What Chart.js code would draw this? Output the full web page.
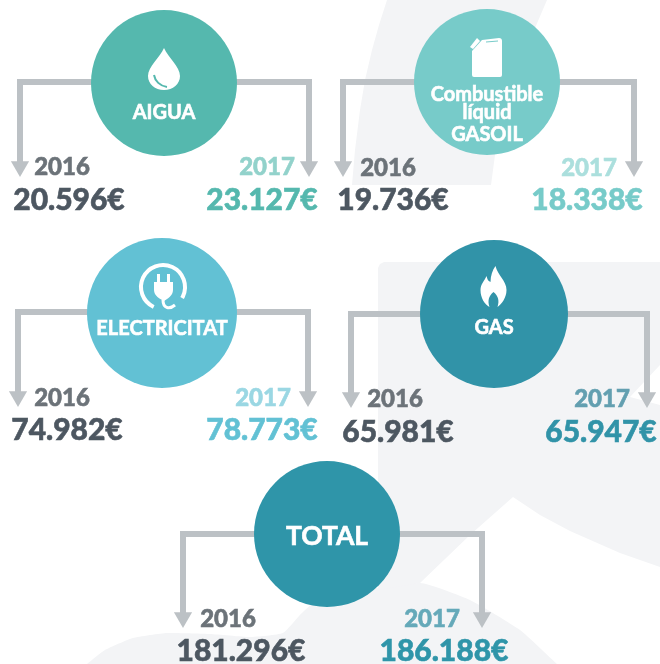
<!DOCTYPE html>
<html>
<head>
<meta charset="utf-8">
<title>Despesa energia i aigua</title>
<script src="https://cdn.jsdelivr.net/npm/chart.js@4"></script>
<style>
  html, body { margin: 0; padding: 0; background: #fff; }
  canvas { display: block; filter: blur(0.5px); }
</style>
</head>
<body>
<canvas id="chart" width="660" height="664"></canvas>
<script>
// dades
const categories = ['AIGUA', 'Combustible líquid GASOIL', 'ELECTRICITAT', 'GAS', 'TOTAL'];
const years = ['2016', '2017'];
const values2016 = [20596, 19736, 74982, 65981, 181296];
const values2017 = [23127, 18338, 78773, 65947, 186188];

// colors de cada cercle
const circleColors = ['#55b8ae', '#77cbc9', '#62c1d4', '#3193a8', '#2f95a9'];
const yearColors = ['#92d2cb', '#abdfdd', '#9ad7e3', '#639fb0', '#65a9b9'];
const GREY_LINE = '#bcc1c5';
const GREY_BACK = '#f3f4f6';
const DARK_VALUE = '#4d5761';
const DARK_YEAR = '#6c7379';

// posicions (en píxels de la imatge)
const circles = [[164, 83, 73], [487, 82, 73], [162, 313, 75], [494, 314, 74], [327, 534, 73]];
const arrows = [[20, 309, 82, 177], [343, 634, 82, 177], [18, 308, 312, 407], [351, 647, 314, 408], [183, 482, 534, 628]];
const yearPos = [[62, 267, 167], [388, 589, 168], [62, 263, 398], [395, 602, 399], [228, 432, 619]];
const valuePos = [[69, 262, 200.5], [393, 587, 200.5], [67, 262, 430.5], [398, 601, 432.5], [241, 444, 651]];
const ARROW_R = 10.5;

// fons gris
const backSwoosh = [[387, 0], [379, 25], [372, 50], [365, 80], [360, 110], [355, 150], [352, 185], [491, 185], [495, 155], [500, 130], [507, 105], [515, 80], [532, 35], [547, 0]];
const backPanel = [[378, 268], [380, 264], [384, 262], [660, 262], [660, 365], [630, 397], [660, 405], [660, 567], [620, 553], [570, 531], [540, 515], [513, 497], [470, 535], [420, 583], [378, 590]];
const backBottom = [[87, 664], [105, 650], [133, 638], [167, 633], [210, 634], [250, 637], [283, 633], [300, 615], [320, 598], [420, 583], [470, 600], [520, 630], [557, 664]];

// rètol blanc de cada cercle: text, y, mida
const circleLabels = [
  [['AIGUA', 113, 20]],
  [['Combustible', 95, 20], ['líquid', 113, 20], ['GASOIL', 135, 20]],
  [['ELECTRICITAT', 329, 20]],
  [['GAS', 328, 20]],
  [['TOTAL', 536, 26.5]]
];

const toXY = p => ({ x: p[0], y: p[1] });
const formatEuro = v => String(v).replace(/\B(?=(\d{3})+$)/g, '.') + '€';

function backDataset(points, tension) {
  return { type: 'scatter', data: points.map(toXY), showLine: true, fill: 'shape', backgroundColor: GREY_BACK, borderWidth: 0, pointRadius: 0, tension, order: 5 };
}

const datasets = [backDataset(backSwoosh, 0), backDataset(backPanel, 0), backDataset(backBottom, 0.15)];

arrows.forEach(a => {
  const [left, right, lineY, tip] = a;
  const end = tip - ARROW_R;
  datasets.push({
    type: 'scatter',
    data: [{ x: left, y: end }, { x: left, y: lineY }, { x: right, y: lineY }, { x: right, y: end }],
    showLine: true, borderColor: GREY_LINE, borderWidth: 6, borderJoinStyle: 'miter', pointRadius: 0, order: 4
  });
  datasets.push({
    type: 'scatter',
    data: [{ x: left, y: end }, { x: right, y: end }],
    pointStyle: 'triangle', pointRotation: 180, pointRadius: ARROW_R, pointBackgroundColor: GREY_LINE, pointBorderWidth: 0, order: 3
  });
});

datasets.push({
  type: 'bubble',
  data: circles.map(c => ({ x: c[0], y: c[1], r: c[2] })),
  backgroundColor: circleColors, borderWidth: 0, order: 2
});

// icones blanques, relatives al centre donat
function drawIcons(ctx, sx, sy) {
  const put = (x, y, fn) => {
    ctx.save();
    ctx.translate(sx.getPixelForValue(x), sy.getPixelForValue(y));
    ctx.fillStyle = '#fff';
    ctx.strokeStyle = '#fff';
    fn();
    ctx.restore();
  };

  // gota
  put(164, 70, () => {
    ctx.fill(new Path2D('M0,-22 C4,-13 16,-3 16,6 C16,14 9,20 0,20 C-9,20 -16,14 -16,6 C-16,-3 -4,-13 0,-22Z'));
    ctx.strokeStyle = circleColors[0];
    ctx.lineWidth = 2;
    ctx.stroke(new Path2D('M-10,5 C-9,11 -4,16 3,17'));
  });

  // garrafa
  put(487, 57, () => {
    ctx.fill(new Path2D('M-15,-6 L-5,-17 L12,-19 Q15,-19 15,-16 L15,18 Q15,20 13,20 L-13,20 Q-15,20 -15,18Z'));
    ctx.fill(new Path2D('M-17,-10 L-10,-19 L-7,-16 L-14,-8Z'));
    ctx.strokeStyle = circleColors[1];
    ctx.lineWidth = 1;
    ctx.stroke(new Path2D('M-1,-15 L11,-16'));
  });

  // endoll
  put(163, 287, () => {
    ctx.lineWidth = 4;
    ctx.beginPath();
    ctx.arc(0, 0, 22, 115 * Math.PI / 180, 30 * Math.PI / 180);
    ctx.stroke();
    ctx.fill(new Path2D('M-9,-5 L10,-5 L10,3 C10,9 4,12 1,14 C-3,12 -9,9 -9,3Z'));
    ctx.fillRect(-6, -13, 3, 9);
    ctx.fillRect(4, -13, 3, 9);
    ctx.lineWidth = 3;
    ctx.stroke(new Path2D('M0,13 C0,21 6,23 12,18'));
  });

  // flama
  put(493.5, 287, () => {
    ctx.fill(new Path2D('M2,-21 C4,-12 13,-6 13,3 C13,11 8,17 4,20 C6,14 5,9 0,5 C-5,9 -6,14 -4,20 C-9,17 -13,11 -13,3 C-13,-3 -9,-6 -7,-11 C-6,-7 -5,-6 -3,-5 C-3,-11 -1,-17 2,-21Z'));
  });
}

// textos de la infografia
const textPlugin = {
  id: 'infoText',
  afterDatasetsDraw(chart) {
    const { ctx, scales } = chart;
    const sx = scales.x, sy = scales.y;
    const put = (text, x, y, font, color) => {
      ctx.font = font;
      ctx.fillStyle = color;
      ctx.strokeStyle = color;
      ctx.lineWidth = 0.6;
      ctx.fillText(text, sx.getPixelForValue(x), sy.getPixelForValue(y));
      ctx.strokeText(text, sx.getPixelForValue(x), sy.getPixelForValue(y));
    };

    ctx.save();
    ctx.textAlign = 'center';
    ctx.textBaseline = 'middle';
    drawIcons(ctx, sx, sy);

    categories.forEach((name, i) => {
      circleLabels[i].forEach(l => put(l[0], circles[i][0], l[1], `700 ${l[2]}px Lato`, '#fff'));
      put(years[0], yearPos[i][0], yearPos[i][2], '900 24px Lato', DARK_YEAR);
      put(years[1], yearPos[i][1], yearPos[i][2], '900 24px Lato', yearColors[i]);
      put(formatEuro(values2016[i]), valuePos[i][0], valuePos[i][2], '900 30px Lato', DARK_VALUE);
      put(formatEuro(values2017[i]), valuePos[i][1], valuePos[i][2], '900 30px Lato', circleColors[i]);
    });
    ctx.restore();
  }
};

new Chart(document.getElementById('chart'), {
  type: 'scatter',
  data: { datasets },
  plugins: [textPlugin],
  options: {
    responsive: false,
    animation: false,
    events: [],
    layout: { padding: 0, autoPadding: false },
    plugins: { legend: { display: false }, tooltip: { enabled: false } },
    scales: {
      x: { type: 'linear', min: 0, max: 660, display: false },
      y: { type: 'linear', min: 0, max: 664, reverse: true, display: false }
    }
  }
});
</script>
</body>
</html>
